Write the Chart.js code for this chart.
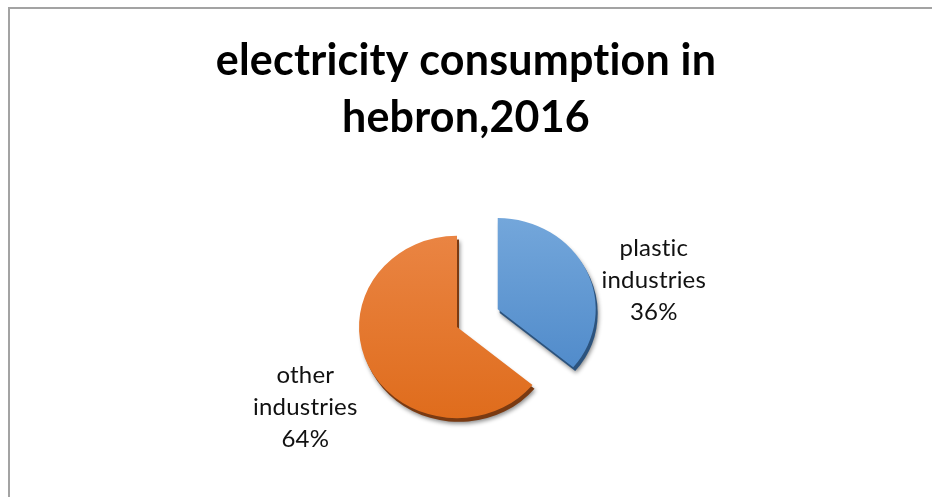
<!DOCTYPE html>
<html>
<head>
<meta charset="utf-8">
<script src="https://cdn.jsdelivr.net/npm/chart.js@4.4.0/dist/chart.umd.min.js"></script>
<style>
  html, body { margin: 0; padding: 0; background: #fff; overflow: hidden; }
  #wrap { position: relative; width: 932px; height: 497px; }
  #frame { position: absolute; left: 8px; top: 7px; width: 960px; height: 520px;
           border-top: 2px solid #a3a3a3; border-left: 2px solid #a3a3a3; }
  canvas { position: absolute; left: 0; top: 0; }
</style>
</head>
<body>
<div id="wrap">
  <div id="frame"></div>
  <canvas id="myChart" width="932" height="497"></canvas>
</div>
<script>
const titleLines = ["electricity consumption in", "hebron,2016"];
const categories = ["plastic industries", "other industries"];
const shares = [36, 64];

// face gradient (top, bottom) and the dark rim under each slice
const faceColors = [["#74a7db", "#4582c5"], ["#eb8747", "#df6c1c"]];
const rimColors = ["#2c537d", "#7a3a12"];
const FLAT = 0.93; // slight tilt, the pie is a bit wider than tall

function pieCenter(chart) {
  const a = chart.chartArea;
  return { x: (a.left + a.right) / 2, y: (a.top + a.bottom) / 2 };
}

const pie3d = {
  id: "pie3d",
  beforeDatasetsDraw(chart, args, opts) {
    const ctx = chart.ctx;
    const c = pieCenter(chart);
    const meta = chart.getDatasetMeta(0);
    // pull the slices out
    meta.data.forEach((arc, i) => {
      const mid = (arc.startAngle + arc.endAngle) / 2;
      const d = opts.explode[i] || 0;
      arc.x = c.x + Math.cos(mid) * d;
      arc.y = c.y + Math.sin(mid) * d;
    });
    ctx.save();
    ctx.translate(c.x, c.y);
    ctx.scale(1, FLAT);
    ctx.translate(-c.x, -c.y);
    // rim + soft shadow
    meta.data.forEach((arc, i) => {
      ctx.save();
      ctx.shadowColor = "rgba(0,0,0,0.45)";
      ctx.shadowBlur = 4;
      ctx.shadowOffsetX = 1;
      ctx.shadowOffsetY = 2;
      ctx.fillStyle = rimColors[i];
      ctx.beginPath();
      ctx.moveTo(arc.x + 2, arc.y + 4);
      ctx.arc(arc.x + 2, arc.y + 4, arc.outerRadius, arc.startAngle, arc.endAngle);
      ctx.closePath();
      ctx.fill();
      ctx.restore();
    });
  },
  afterDatasetsDraw(chart) {
    chart.ctx.restore();
  },
  afterDraw(chart, args, opts) {
    const ctx = chart.ctx;
    const c = pieCenter(chart);
    const meta = chart.getDatasetMeta(0);
    ctx.save();
    ctx.fillStyle = "#111";
    ctx.textAlign = "center";
    ctx.textBaseline = "middle";
    ctx.font = "24px Lato";
    ctx.letterSpacing = "0.2px"; // keeps Lato from joining "ti"
    meta.data.forEach((arc, i) => {
      const lines = categories[i].split(" ").concat([shares[i] + "%"]);
      const a = (arc.startAngle + arc.endAngle) / 2 + opts.nudge[i] * Math.PI / 180;
      const d = arc.outerRadius * opts.dist[i];
      const x = arc.x + Math.cos(a) * d;
      const y = c.y + (arc.y - c.y) * FLAT + Math.sin(a) * d;
      lines.forEach((t, k) => {
        ctx.fillText(t, x, y + (k - (lines.length - 1) / 2) * 32);
      });
    });
    // chart title, centred on the whole canvas
    ctx.font = "bold 43px Lato";
    ctx.fillStyle = "#000";
    ctx.textBaseline = "alphabetic";
    titleLines.forEach((t, k) => {
      ctx.fillText(t, chart.width / 2, opts.titleBaseline + k * 57);
    });
    ctx.restore();
  },
};

const ctx = document.getElementById("myChart").getContext("2d");
window.chart = new Chart(ctx, {
  type: "pie",
  data: {
    labels: categories,
    datasets: [
      {
        data: shares,
        radius: 98,
        borderWidth: 0,
        backgroundColor: (c) => {
          const area = c.chart.chartArea;
          const col = faceColors[c.dataIndex];
          if (!area) return col[0];
          const cy = (area.top + area.bottom) / 2;
          const g = c.chart.ctx.createLinearGradient(0, cy - 120, 0, cy + 100);
          g.addColorStop(0, col[0]);
          g.addColorStop(1, col[1]);
          return g;
        },
      },
    ],
  },
  options: {
    responsive: false,
    animation: false,
    devicePixelRatio: 1,
    layout: { padding: { left: 0, right: 18, top: 165, bottom: 8 } },
    plugins: {
      legend: { display: false },
      tooltip: { enabled: false },
      title: { display: false },
      pie3d: { explode: [45, 0], nudge: [14.7, -2.6], dist: [1.62, 1.75], titleBaseline: 75 },
    },
    events: [],
  },
  plugins: [pie3d],
});
</script>
</body>
</html>
